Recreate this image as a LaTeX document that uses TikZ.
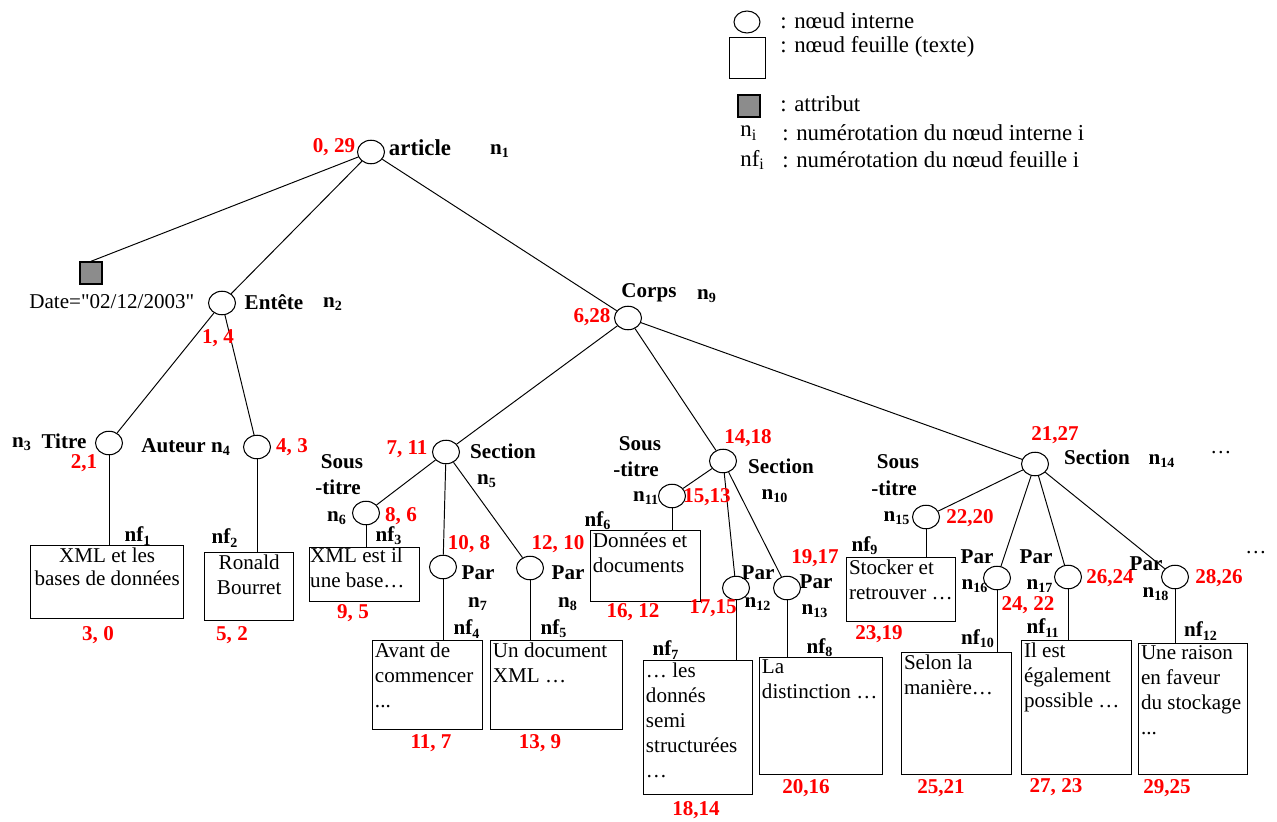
\documentclass[tikz,border=0pt]{standalone}
\usepackage{fontspec}
\setmainfont{Liberation Serif}
\newfontfamily\rawserif{Liberation Serif}
\usetikzlibrary{shapes.geometric}
\newcommand\subn[1]{n\textsubscript{#1}}
\newcommand\subnf[1]{nf\textsubscript{#1}}
\begin{document}
\begin{tikzpicture}[x=0.02cm,y=-0.02cm,
  inode/.style={ellipse,draw,line width=0.6pt,minimum width=0.54cm,minimum height=0.47cm,inner sep=0pt},
  leaf/.style={draw,line width=0.8pt,rectangle,anchor=north west,inner sep=0pt},
  attrbox/.style={draw,line width=0.8pt,fill=black!45,minimum width=0.44cm,minimum height=0.44cm,inner sep=0pt},
  lbl/.style={inner sep=0pt,font=\fontsize{12}{14}\selectfont\bfseries},
  num/.style={inner sep=0pt,text=red,font=\fontsize{12}{14}\selectfont\bfseries},
  plain/.style={inner sep=0pt,font=\fontsize{12}{14}\selectfont},
  leg/.style={inner sep=0pt,anchor=west,font=\fontsize{13}{15}\selectfont},
  ltext/.style={inner sep=1.5pt,anchor=north west,align=left,font=\fontsize{12}{14.2}\selectfont},
  ctext/.style={inner sep=1.5pt,anchor=north,align=center,font=\fontsize{12}{14.2}\selectfont},
  edge/.style={line width=0.55pt}]
\useasboundingbox (0,0) rectangle (1277,821);

% ---------- legend ----------
\node[inode,minimum width=0.52cm,minimum height=0.44cm] (lgc) at (747,22) {};
\node[leg] (lgct) at (780,21) {: nœud interne};
\node[draw,line width=0.8pt,anchor=north west,minimum width=0.72cm,minimum height=0.82cm,inner sep=0pt] (lgr) at (729,37) {};
\node[leg] (lgrt) at (780,47) {: nœud feuille (texte)};
\node[attrbox] (lga) at (749,106) {};
\node[leg] (lgat) at (780,104) {: attribut};
\node[leg] (lgn) at (740,133) {\subn{i}};
\node[leg] (lgnt) at (782,133) {: numérotation du nœud interne i};
\node[leg] (lgnf) at (740,160) {\subnf{i}};
\node[leg] (lgnft) at (782,160) {: numérotation du nœud feuille i};

% ---------- internal nodes ----------
\node[inode] (n1) at (371,152) {};
\node[attrbox] (attr) at (91,273) {};
\node[inode] (n2) at (222,303) {};
\node[inode] (n9) at (628,318) {};
\node[inode] (n3) at (109,443) {};
\node[inode] (n4) at (257,447) {};
\node[inode] (n5) at (446,452) {};
\node[inode] (n6) at (366,513) {};
\node[inode] (n7) at (443,567) {};
\node[inode] (n8) at (530,568) {};
\node[inode] (n10) at (723,461) {};
\node[inode] (n11) at (672,496) {};
\node[inode] (n12) at (736,588) {};
\node[inode] (n13) at (787,588) {};
\node[inode] (n14) at (1035,464) {};
\node[inode] (n15) at (926,517) {};
\node[inode] (n16) at (997,578) {};
\node[inode] (n17) at (1068,577) {};
\node[inode] (n18) at (1175,577) {};

% ---------- leaf boxes ----------
\node[leaf,minimum width=3.06cm,minimum height=1.46cm] (nf1) at (30,545) {};
\node[leaf,minimum width=1.78cm,minimum height=1.36cm] (nf2) at (204,552) {};
\node[leaf,minimum width=2.2cm,minimum height=1.08cm] (nf3) at (309,547) {};
\node[leaf,minimum width=2.2cm,minimum height=1.78cm] (nf4) at (372,640) {};
\node[leaf,minimum width=2.64cm,minimum height=1.78cm] (nf5) at (490,640) {};
\node[leaf,minimum width=2.2cm,minimum height=1.42cm] (nf6) at (590,530) {};
\node[leaf,minimum width=2.18cm,minimum height=2.68cm] (nf7) at (643,660) {};
\node[leaf,minimum width=2.46cm,minimum height=2.34cm] (nf8) at (759,657) {};
\node[leaf,minimum width=2.18cm,minimum height=1.28cm] (nf9) at (846,557) {};
\node[leaf,minimum width=2.2cm,minimum height=2.44cm] (nf10) at (901,652) {};
\node[leaf,minimum width=2.2cm,minimum height=2.68cm] (nf11) at (1021,640) {};
\node[leaf,minimum width=2.18cm,minimum height=2.62cm] (nf12) at (1138,643) {};

% ---------- leaf texts ----------
\node[ctext,font=\fontsize{12}{13}\selectfont] (t1) at (nf1.north) {XML et les\\bases de données};
\node[ctext] (t2) at (nf2.north) {Ronald\\Bourret};
\node[ltext,inner sep=0.5pt] (t3) at (nf3.north west) {XML est il\\une base…};
\node[ltext] (t4) at (nf4.north west) {Avant de\\commencer\\...};
\node[ltext] (t5) at (nf5.north west) {Un document\\XML …};
\node[ltext] (t6) at (nf6.north west) {Données et\\documents};
\node[ltext] (t7) at (nf7.north west) {… les\\donnés\\semi\\structurées\\…};
\node[ltext] (t8) at (nf8.north west) {La\\distinction …};
\node[ltext] (t9) at (nf9.north west) {Stocker et\\retrouver …};
\node[ltext] (t10) at (nf10.north west) {Selon la\\manière…};
\node[ltext] (t11) at (nf11.north west) {Il est\\également\\possible …};
\node[ltext] (t12) at (nf12.north west) {Une raison\\en faveur\\du stockage\\...};

% ---------- edges ----------
\draw[edge] (n1) -- (attr.north);
\draw[edge] (n1) -- (n2);
\draw[edge] (n1) -- (n9);
\draw[edge] (n2) -- (n3);
\draw[edge] (n2) -- (n4);
\draw[edge] (n9) -- (n5);
\draw[edge] (n9) -- (n10);
\draw[edge] (n9) -- (n14);
\draw[edge] (n5) -- (n6);
\draw[edge] (n5) -- (n7);
\draw[edge] (n5) -- (n8);
\draw[edge] (n10) -- (n11);
\draw[edge] (n10) -- (n12);
\draw[edge] (n10) -- (n13);
\draw[edge] (n14) -- (n15);
\draw[edge] (n14) -- (n16);
\draw[edge] (n14) -- (n17);
\draw[edge] (n14) -- (n18);
\draw[edge] (n3) -- (n3 |- nf1.north);
\draw[edge] (n4) -- (n4 |- nf2.north);
\draw[edge] (n6) -- (n6 |- nf3.north);
\draw[edge] (n7) -- (n7 |- nf4.north);
\draw[edge] (n8) -- (n8 |- nf5.north);
\draw[edge] (n11) -- (n11 |- nf6.north);
\draw[edge] (n12) -- (n12 |- nf7.north);
\draw[edge] (n13) -- (n13 |- nf8.north);
\draw[edge] (n15) -- (n15 |- nf9.north);
\draw[edge] (n16) -- (n16 |- nf10.north);
\draw[edge] (n17) -- (n17 |- nf11.north);
\draw[edge] (n18) -- (n18 |- nf12.north);

% ---------- labels ----------
\node[num] (c1) at (334,147) {0, 29};
\node[lbl,font=\fontsize{13}{15}\selectfont\bfseries] (l1) at (420,148) {article};
\node[lbl] (m1) at (500,151) {\subn{1}};
\node[plain,anchor=west,font=\fontsize{12}{14}\rawserif] (dt) at (29,302) {Date="02/12/2003"};
\node[lbl] (l2) at (274,302) {Entête};
\node[lbl] (m2) at (333,304) {\subn{2}};
\node[num] (c2) at (218,338) {1, 4};
\node[lbl] (l9) at (649,293) {Corps};
\node[lbl] (m9) at (707,296) {\subn{9}};
\node[num] (c9) at (592,317) {6,28};
\node[lbl] (m3) at (22,444) {\subn{3}};
\node[lbl] (l3) at (64,441) {Titre};
\node[num] (c3) at (84,463) {2,1};
\node[lbl] (l4) at (186,447) {Auteur \subn{4}};
\node[num] (c4) at (292,447) {4, 3};
\node[num] (c5) at (407,449) {7, 11};
\node[lbl] (l5) at (503,451) {Section};
\node[lbl] (m5) at (487,481) {\subn{5}};
\node[lbl] (l6a) at (342,462) {Sous};
\node[lbl] (l6b) at (338,487) {-titre};
\node[lbl] (m6) at (337,518) {\subn{6}};
\node[num] (c6) at (401,516) {8, 6};
\node[num] (c7) at (469,544) {10, 8};
\node[lbl] (l7) at (478,573) {Par};
\node[lbl] (m7) at (478,604) {\subn{7}};
\node[num] (c8) at (558,544) {12, 10};
\node[lbl] (l8) at (568,573) {Par};
\node[lbl] (m8) at (568,604) {\subn{8}};
\node[num] (c10) at (748,438) {14,18};
\node[lbl] (l10) at (781,466) {Section};
\node[lbl] (m10) at (775,496) {\subn{10}};
\node[lbl] (l11a) at (640,444) {Sous};
\node[lbl] (l11b) at (636,469) {-titre};
\node[lbl] (m11) at (646,498) {\subn{11}};
\node[num] (c11) at (707,497) {15,13};
\node[lbl] (l12) at (758,573) {Par};
\node[lbl] (m12) at (758,604) {\subn{12}};
\node[num] (c12) at (713,608) {17,15};
\node[num] (c13) at (815,558) {19,17};
\node[lbl] (l13) at (816,582) {Par};
\node[lbl] (m13) at (815,611) {\subn{13}};
\node[num] (c14) at (1055,435) {21,27};
\node[lbl] (l14) at (1097,457) {Section};
\node[lbl] (m14) at (1162,461) {\subn{14}};
\node[plain] (d1) at (1221,453) {…};
\node[lbl] (l15a) at (898,462) {Sous};
\node[lbl] (l15b) at (894,488) {-titre};
\node[lbl] (m15) at (897,518) {\subn{15}};
\node[num] (c15) at (970,518) {22,20};
\node[lbl] (l16) at (977,557) {Par};
\node[lbl] (m16) at (975,586) {\subn{16}};
\node[num] (c16) at (1028,605) {24, 22};
\node[lbl] (l17) at (1036,557) {Par};
\node[lbl] (m17) at (1040,586) {\subn{17}};
\node[num] (c17) at (1110,578) {26,24};
\node[lbl] (l18) at (1146,564) {Par};
\node[lbl] (m18) at (1156,594) {\subn{18}};
\node[num] (c18) at (1219,578) {28,26};
\node[plain] (d2) at (1256,553) {…};

% leaf labels and numbers
\node[lbl] (f1) at (138,536) {\subnf{1}};
\node[num] (g1) at (98,635) {3, 0};
\node[lbl] (f2) at (225,538) {\subnf{2}};
\node[num] (g2) at (232,635) {5, 2};
\node[lbl] (f3) at (389,536) {\subnf{3}};
\node[num] (g3) at (353,613) {9, 5};
\node[lbl] (f4) at (467,629) {\subnf{4}};
\node[num] (g4) at (431,743) {11, 7};
\node[lbl] (f5) at (554,629) {\subnf{5}};
\node[num] (g5) at (540,743) {13, 9};
\node[lbl] (f6) at (598,521) {\subnf{6}};
\node[num] (g6) at (633,612) {16, 12};
\node[lbl] (f7) at (666,650) {\subnf{7}};
\node[num] (g7) at (696,810) {18,14};
\node[lbl] (f8) at (820,648) {\subnf{8}};
\node[num] (g8) at (806,788) {20,16};
\node[lbl] (f9) at (865,546) {\subnf{9}};
\node[num] (g9) at (879,634) {23,19};
\node[lbl] (f10) at (978,639) {\subnf{10}};
\node[num] (g10) at (941,788) {25,21};
\node[lbl] (f11) at (1043,628) {\subnf{11}};
\node[num] (g11) at (1056,787) {27, 23};
\node[lbl] (f12) at (1201,631) {\subnf{12}};
\node[num] (g12) at (1167,788) {29,25};
\end{tikzpicture}
\end{document}
